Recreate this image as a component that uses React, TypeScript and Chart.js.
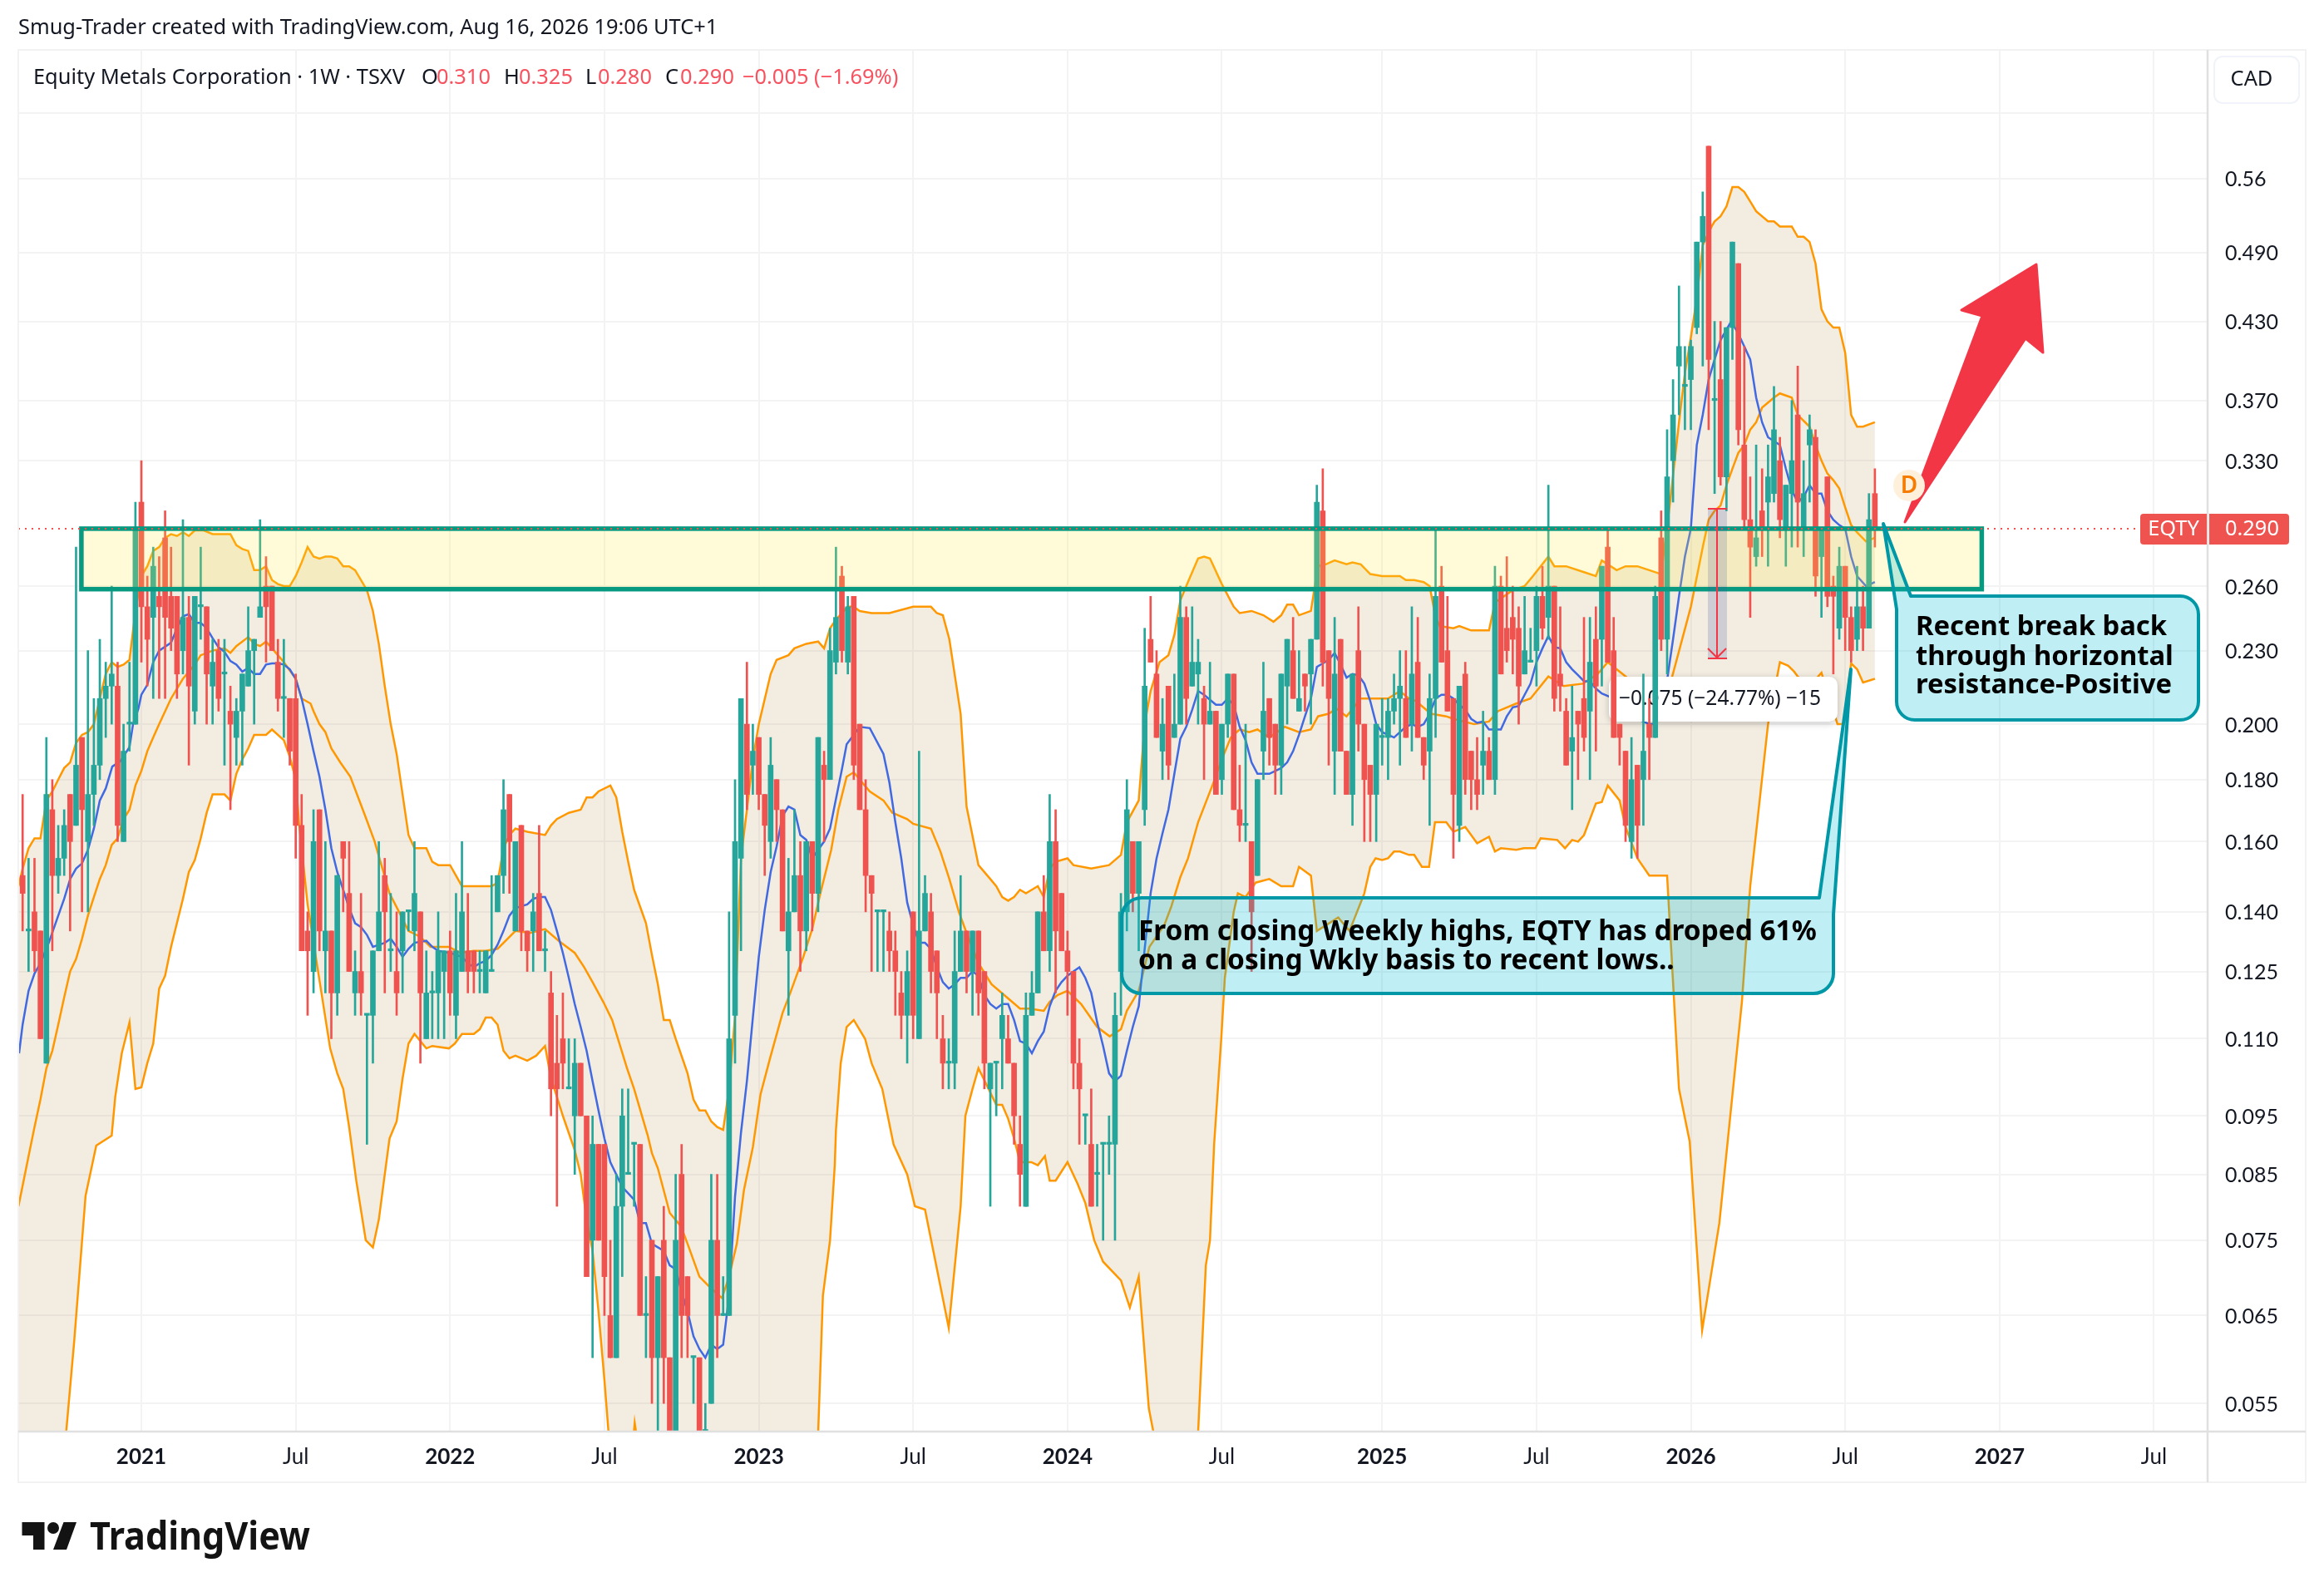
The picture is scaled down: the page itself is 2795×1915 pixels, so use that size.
import React, { useEffect, useRef } from "react";
import { Chart, registerables } from "chart.js";

Chart.register(...registerables);

// Every candle row is [open, close, high, low]; the first row of the first list is week -20, week 0 is Jan 2021.
const candles2020 = [
[.15,.145,.175,.135],[.135,.135,.155,.125],[.14,.13,.155,.125],[.135,.11,.135,.11],[.105,.175,.195,.105],[.17,.15,.18,.13],[.15,.155,.165,.145],[.155,.165,.17,.15],[.175,.16,.175,.135],[.165,.185,.28,.165],
[.195,.17,.195,.14],[.16,.175,.23,.14],[.175,.185,.21,.165],[.185,.21,.235,.18],[.21,.215,.225,.195],[.215,.22,.26,.20],[.215,.165,.225,.16],[.16,.19,.20,.16],[.20,.20,.225,.19],[.20,.29,.305,.20],
];
const candles2021 = [
[.305,.25,.33,.225],[.25,.235,.265,.215],[.245,.27,.28,.21],[.255,.25,.275,.21],[.285,.245,.30,.21],[.255,.24,.28,.23],[.255,.22,.255,.21],[.23,.245,.295,.22],[.245,.215,.255,.185],[.205,.255,.255,.20],
[.25,.25,.28,.235],[.25,.22,.25,.20],[.215,.225,.235,.20],[.23,.21,.235,.205],[.22,.22,.235,.185],[.205,.20,.215,.17],[.195,.205,.21,.185],[.205,.22,.22,.185],[.215,.23,.25,.215],[.23,.235,.235,.20],
[.245,.25,.295,.245],[.26,.25,.275,.225],[.26,.23,.26,.23],[.225,.21,.235,.205],[.21,.21,.235,.195],[.21,.19,.21,.185],[.21,.165,.22,.155],[.165,.13,.175,.13],[.135,.13,.14,.115],[.125,.16,.17,.12],
[.17,.135,.17,.13],[.13,.135,.16,.12],[.135,.12,.135,.11],[.12,.15,.15,.115],[.16,.155,.16,.14],[.145,.125,.16,.125],[.12,.125,.13,.115],[.125,.12,.145,.115],[.115,.115,.115,.09],[.115,.13,.13,.105],
[.13,.14,.16,.13],[.15,.14,.155,.12],[.13,.13,.145,.125],[.125,.12,.14,.115],[.13,.14,.14,.12],[.14,.14,.14,.135],[.135,.145,.16,.13],[.14,.12,.14,.105],[.11,.12,.13,.11],[.12,.12,.125,.11],
[.12,.13,.14,.11],[.125,.13,.13,.11],
];
const candles2022 = [
[.13,.12,.135,.115],[.115,.13,.145,.11],[.125,.14,.16,.125],[.13,.125,.145,.12],[.13,.125,.13,.12],[.125,.125,.13,.12],[.12,.13,.13,.12],[.125,.125,.15,.125],[.14,.15,.15,.14],[.15,.17,.18,.145],
[.175,.16,.175,.145],[.135,.16,.16,.135],[.165,.135,.165,.13],[.135,.13,.135,.125],[.135,.14,.145,.125],[.145,.13,.165,.13],[.13,.13,.135,.125],[.12,.10,.125,.095],[.105,.10,.115,.08],[.11,.105,.12,.10],
[.10,.10,.11,.10],[.095,.105,.11,.085],[.105,.095,.105,.095],[.095,.07,.095,.07],[.075,.09,.095,.06],[.09,.075,.09,.075],[.09,.07,.09,.065],[.065,.06,.075,.06],[.06,.08,.085,.06],[.08,.095,.10,.07],
[.085,.085,.10,.085],[.09,.09,.09,.08],[.09,.065,.09,.065],[.065,.065,.07,.06],[.075,.06,.075,.055],[.06,.07,.07,.05],[.075,.06,.08,.055],[.06,.05,.06,.05],[.05,.075,.085,.05],[.085,.065,.09,.06],
[.07,.065,.07,.06],[.06,.06,.06,.055],[.06,.05,.06,.05],[.05,.05,.055,.05],[.055,.075,.085,.055],[.075,.065,.085,.06],[.065,.065,.07,.065],[.065,.11,.14,.065],[.115,.16,.18,.105],[.155,.21,.21,.13],
[.20,.175,.225,.17],[.185,.19,.20,.175],
];
const candles2023 = [
[.195,.175,.195,.17],[.175,.165,.175,.15],[.16,.185,.195,.155],[.18,.17,.18,.16],[.17,.135,.17,.135],[.13,.14,.155,.115],[.14,.15,.17,.14],[.15,.135,.16,.125],[.135,.16,.16,.13],[.16,.145,.16,.135],
[.145,.195,.195,.14],[.185,.18,.19,.16],[.18,.23,.24,.18],[.225,.245,.28,.22],[.265,.23,.27,.225],[.225,.25,.255,.22],[.255,.185,.255,.18],[.20,.17,.20,.17],[.17,.15,.18,.14],[.15,.145,.15,.125],
[.14,.14,.14,.125],[.14,.14,.14,.125],[.135,.13,.14,.125],[.13,.125,.135,.115],[.12,.115,.125,.11],[.115,.125,.13,.105],[.14,.115,.14,.11],[.11,.135,.19,.11],[.135,.145,.15,.135],[.14,.125,.145,.12],
[.13,.12,.13,.11],[.11,.105,.115,.10],[.105,.105,.11,.10],[.105,.125,.135,.10],[.125,.135,.15,.125],[.135,.125,.135,.12],[.125,.135,.135,.115],[.135,.12,.135,.115],[.125,.105,.125,.10],[.10,.105,.105,.08],
[.105,.105,.105,.095],[.11,.115,.12,.10],[.11,.105,.115,.105],[.105,.095,.105,.09],[.09,.085,.095,.08],[.08,.115,.12,.08],[.115,.12,.125,.115],[.12,.14,.14,.12],[.14,.13,.15,.13],[.13,.16,.175,.125],
[.16,.135,.17,.12],[.145,.13,.145,.13],
];
const candles2024 = [
[.13,.125,.135,.115],[.125,.105,.125,.10],[.105,.10,.11,.09],[.095,.095,.095,.09],[.09,.08,.10,.08],[.085,.085,.09,.08],[.09,.09,.09,.075],[.09,.09,.095,.085],[.09,.115,.12,.075],[.125,.14,.145,.115],
[.14,.17,.18,.135],[.16,.145,.16,.14],[.145,.16,.16,.13],[.17,.215,.24,.165],[.235,.225,.255,.225],[.22,.195,.23,.195],[.19,.20,.21,.18],[.215,.185,.215,.18],[.195,.20,.22,.195],[.20,.245,.26,.20],
[.245,.21,.25,.20],[.215,.225,.25,.215],[.22,.225,.235,.20],[.21,.20,.215,.18],[.20,.205,.225,.20],[.205,.175,.205,.175],[.18,.20,.20,.175],[.20,.22,.22,.195],[.22,.17,.22,.17],[.17,.165,.185,.16],
[.165,.165,.20,.16],[.16,.14,.16,.125],[.15,.18,.18,.15],[.19,.205,.225,.18],[.21,.195,.21,.185],[.20,.185,.20,.175],[.185,.22,.22,.175],[.215,.235,.235,.20],[.23,.21,.245,.21],[.205,.21,.23,.205],
[.22,.215,.22,.205],[.22,.235,.235,.20],[.235,.305,.315,.235],[.30,.225,.325,.215],[.23,.21,.23,.185],[.19,.22,.245,.175],[.235,.19,.235,.19],[.19,.175,.19,.175],[.175,.22,.22,.165],[.23,.20,.25,.19],
[.20,.18,.20,.16],[.185,.175,.185,.16],[.175,.20,.20,.16],
];
const candles2025 = [
[.195,.195,.21,.185],[.195,.205,.21,.18],[.205,.21,.22,.20],[.21,.215,.23,.185],[.21,.195,.23,.195],[.20,.22,.25,.19],[.225,.195,.245,.195],[.195,.185,.195,.18],[.19,.21,.22,.165],[.21,.255,.29,.195],
[.26,.225,.27,.225],[.23,.205,.255,.205],[.21,.175,.21,.155],[.165,.215,.215,.16],[.22,.18,.225,.175],[.19,.18,.19,.17],[.18,.175,.195,.17],[.185,.19,.205,.175],[.19,.18,.195,.18],[.18,.26,.27,.175],
[.26,.22,.265,.22],[.24,.23,.275,.225],[.245,.235,.26,.22],[.24,.215,.25,.20],[.22,.23,.255,.22],[.225,.225,.24,.225],[.23,.255,.26,.215],[.255,.24,.27,.235],[.245,.26,.315,.235],[.26,.21,.26,.205],
[.22,.215,.25,.205],[.205,.185,.21,.185],[.19,.195,.215,.17],[.205,.20,.205,.18],[.21,.195,.245,.19],[.205,.225,.245,.18],[.235,.215,.25,.19],[.235,.27,.27,.215],[.28,.225,.29,.225],[.23,.195,.245,.195],
[.20,.195,.20,.185],[.19,.165,.19,.16],[.16,.18,.195,.155],[.185,.165,.185,.155],[.18,.19,.22,.165],[.20,.195,.21,.18],[.195,.255,.26,.195],[.285,.235,.30,.23],[.235,.32,.35,.22],[.33,.36,.385,.305],
[.395,.41,.46,.36],[.38,.38,.41,.35],
];
const candles2026 = [
[.385,.41,.415,.35],[.425,.50,.50,.42],[.50,.525,.55,.395],[.60,.40,.60,.35],[.37,.37,.43,.31],[.385,.32,.43,.315],[.32,.425,.425,.30],[.425,.50,.50,.40],[.48,.35,.48,.34],[.34,.295,.41,.29],
[.295,.28,.32,.245],[.275,.285,.34,.27],[.30,.29,.325,.275],[.305,.32,.34,.27],[.31,.35,.38,.305],[.33,.295,.345,.285],[.29,.315,.315,.27],[.31,.33,.37,.28],[.36,.305,.395,.28],[.29,.31,.33,.275],
[.34,.35,.36,.305],[.345,.265,.35,.255],[.275,.29,.29,.245],[.32,.255,.32,.25],[.26,.255,.265,.22],[.24,.27,.28,.235],[.27,.245,.27,.23],[.245,.23,.25,.225],[.235,.25,.27,.23],[.25,.24,.26,.23],
[.24,.295,.31,.24],[.31,.29,.325,.28],
];
const candleYears = [candles2020, candles2021, candles2022, candles2023, candles2024, candles2025, candles2026];
const firstWeek = -20;

const upperBand = [
[-20.7,.147],[-20,.152],[-19,.158],[-18,.161],[-17,.161],[-16,.173],[-15,.176],[-14,.18],[-13,.184],[-12,.186],[-11,.193],[-10,.196],[-9,.197],[-8,.20],[-7,.21],[-6,.22],[-5,.225],[-4,.223],[-3,.224],[-2,.226],[-1,.248],
[0,.265],[1,.27],[2,.278],[3,.28],[4,.285],[5,.287],[6,.286],[7,.288],[8,.286],[9,.289],[10.5,.289],[12,.287],[15,.287],[16,.281],[17,.279],[18,.278],[19,.268],[20,.268],[21,.27],[22,.263],[23,.261],[24,.26],[25,.26],[26,.265],[27,.272],[28,.28],[29,.275],[30,.274],[31,.275],[32,.275],[33,.274],[34,.27],[35,.27],[36,.268],[37,.263],[38,.258],[39,.248],[40,.233],[41,.215],[42,.20],[43,.189],[44,.175],[45,.162],[46,.158],[48,.158],[49,.154],[50,.153],
[52,.153],[54,.147],[56,.147],[58,.147],[59,.147],[60,.148],[61,.158],[62,.162],[63,.164],[65,.163],[68,.162],[69,.165],[70,.167],[72,.169],[74,.17],[75,.174],[76,.174],[77,.176],[79,.178],[80,.174],[81,.163],[82,.154],[83,.146],[85,.137],[86,.129],[87,.122],[88,.114],[89,.114],[90,.11],[92,.103],[93,.098],[94,.096],[95,.096],[96,.094],[97,.093],[98,.0925],[99,.10],[100,.115],[101,.155],[102,.17],[103,.187],
[104,.20],[106,.22],[107,.226],[109,.228],[110,.231],[112,.233],[114,.234],[115,.231],[116,.24],[117,.244],[119,.25],[120,.25],[121,.248],[123,.247],[126,.247],[130,.25],[133,.25],[134,.247],[135,.246],[136.1,.235],[138,.204],[139,.171],[141,.153],[143,.149],[144,.147],[145,.144],[146,.143],[147,.144],[148,.146],[149,.145],[150,.146],[151,.147],[152,.144],[153,.152],[154,.154],
[156,.155],[157,.153],[160,.152],[163,.153],[165,.156],[166,.166],[168,.173],[169,.20],[170,.213],[171.5,.225],[173,.228],[174,.237],[175,.253],[176,.26],[178,.274],[179,.275],[180,.274],[182,.261],[184,.25],[185,.247],[187,.248],[189,.246],[190.7,.243],[192,.246],[193,.251],[194,.251],[195,.246],[197,.248],[198.2,.27],[199.5,.271],[201,.273],[203,.271],[204,.272],[205.4,.271],[207,.266],
[209,.265],[212,.265],[213,.263],[214.4,.263],[216,.262],[217,.26],[218,.245],[218.7,.241],[221,.24],[222,.241],[224,.239],[227,.239],[228,.252],[231,.258],[233,.26],[234.4,.265],[237,.275],[238,.27],[240,.27],[243,.267],[245,.265],[246,.273],[247.5,.27],[248.5,.268],[250,.27],[252,.27],[254,.268],[256,.266],[257.5,.305],[259,.355],[260,.39],
[261,.417],[262,.45],[263,.497],[264.5,.515],[265,.52],[266,.525],[267,.535],[268,.555],[269,.555],[270,.55],[271,.54],[272,.53],[274,.52],[275,.52],[276,.515],[278,.515],[279,.505],[280,.505],[281,.50],[282,.48],[283,.44],[284,.43],[285,.425],[286,.425],[287,.405],[288,.36],[289,.352],[290,.352],[292,.355],
];
const lowerBand = [
[-20.7,.036],[-17,.042],[-15,.047],[-13,.05],[-12.6,.0525],[-11.3,.062],[-9.4,.0816],[-7.6,.0898],[-5,.0915],[-4.4,.0985],[-3.3,.107],[-2,.1135],[-1,.10],
[0,.1003],[1,.105],[2,.109],[3,.121],[4,.124],[5,.131],[7,.1435],[8,.151],[9,.1545],[10,.161],[11,.169],[12,.175],[14,.175],[15,.173],[16,.182],[17,.187],[18,.191],[19,.196],[21,.196],[22,.198],[24,.194],[25,.188],[26,.18],[26.6,.165],[28,.142],[31.8,.108],[33,.103],[34,.10],[35,.093],[36.2,.084],[37.8,.075],[39,.074],[40,.078],[41,.085],[41.8,.091],[43,.094],[44,.102],[45,.109],[46,.111],[48,.108],[49,.1085],[51.8,.108],
[52.8,.109],[54,.111],[56,.111],[57,.112],[58,.1145],[59,.1145],[60,.113],[61,.1075],[62,.106],[63,.1065],[65,.1055],[66.5,.1065],[68,.1085],[69,.102],[70,.0985],[71,.095],[73,.089],[74,.085],[75,.078],[76,.0735],[77,.0655],[78,.0575],[78.7,.052],[80,.048],[82.8,.051],[83.1,.053],[83.6,.051],[86,.044],[92,.036],[100,.034],[108,.04],[112,.047],[114,.052],[114.8,.0675],[116,.075],[116.8,.0865],[117,.0925],[117.8,.105],[118.8,.1125],
[120,.114],[121.9,.11],[123,.105],[124.8,.10],[126.7,.09],[129,.085],[130.3,.08],[132,.0795],[136,.0635],[138,.08],[138.8,.095],[140,.10],[141,.104],[142.7,.10],[144,.097],[145,.097],[146,.0945],[147,.091],[148,.087],[149.9,.087],[151,.0865],[152.2,.088],[153,.084],[154,.084],
[156,.087],[157.7,.0835],[159,.0805],[160.5,.075],[162,.072],[165,.0695],[166.5,.066],[168,.07],[169.7,.0545],[170.5,.052],[172,.047],[175,.045],[178,.052],[179.3,.0715],[180,.075],[180.7,.09],[181.9,.11],[182.5,.1235],[184,.14],[184.7,.145],[186,.144],[187.7,.148],[190,.149],[192,.147],[194,.147],[195,.1525],[197,.15],[198,.135],[201.6,.1385],[203.5,.135],[206,.145],[207,.1525],[207.9,.155],
[209,.1545],[210,.155],[211,.157],[212,.157],[213.5,.156],[214.4,.156],[215.7,.1525],[216.9,.1525],[217.9,.166],[219.8,.166],[221,.163],[223,.1645],[225,.1595],[227,.1615],[228,.157],[229,.158],[231.6,.1575],[232.9,.158],[234.8,.158],[235.7,.161],[238.5,.1605],[239.8,.158],[241,.1605],[242,.16],[243,.162],[245,.172],[246,.1725],[247,.178],[249,.173],[250,.1645],[252,.155],[254,.15],[256,.15],[257,.15],[259,.10],[260.8,.0905],
[262.9,.0632],[265.8,.0775],[269.6,.118],[271,.147],[274,.20],[276,.225],[277.4,.2235],[278.4,.221],[279,.219],[281,.215],[283,.2205],[285.7,.20],[286.7,.20],[288,.2245],[289,.222],[290,.2165],[292,.218],
];
const middleBand = [
[-20.7,.08],[-19,.088],[-18,.093],[-17,.098],[-16,.104],[-15,.1075],[-14,.113],[-13,.119],[-12,.125],[-11,.128],[-10,.133],[-9,.139],[-8,.144],[-7,.149],[-6,.153],[-5,.159],[-4,.161],[-3,.167],[-2,.17],[-1,.178],
[0,.183],[1,.19],[2,.195],[3,.20],[5,.21],[7,.218],[9,.224],[10,.228],[12,.23],[14,.231],[15,.229],[16,.232],[18,.236],[19,.233],[20,.232],[21,.234],[22,.231],[23,.228],[24,.225],[26,.218],[27,.21],[28.5,.208],[29,.205],[30,.20],[31,.197],[32,.191],[33.5,.186],[35.2,.181],[37.7,.168],[39.3,.16],[41.8,.145],[43.4,.14],[45,.135],[47,.1335],[48.7,.131],[51.8,.131],
[53.7,.1295],[56,.13],[58,.13],[60,.1305],[63,.135],[65.5,.1345],[68,.1355],[70.3,.1325],[73,.1295],[74.6,.126],[76,.1225],[77.8,.118],[79.3,.114],[81.8,.104],[83,.10],[85.3,.0915],[86,.0885],[87,.086],[89,.079],[90.9,.077],[92,.0745],[94,.07],[95.9,.0685],[97.8,.0672],[99,.07],[100.3,.0745],[101.5,.0825],[103,.0895],
[104.3,.099],[105.9,.106],[108,.1155],[109.3,.12],[111.5,.1285],[113,.1355],[114.3,.1445],[116.2,.1575],[117.4,.17],[118.8,.181],[120,.1825],[121,.18],[122.7,.176],[125,.173],[126.5,.169],[129,.167],[130,.1655],[133,.164],[134.6,.157],[136.1,.149],[137.7,.14],[139,.1345],[141,.127],[143.2,.122],[145.8,.119],[148,.1165],[149.6,.1165],[152,.116],[153,.118],[154.3,.1195],
[156,.1205],[158.3,.1175],[161,.1125],[163.1,.1105],[165,.112],[166,.116],[168,.1205],[169.8,.131],[172.3,.1365],[173.5,.1415],[175,.1495],[176.3,.155],[178,.166],[180.4,.178],[182,.187],[183.5,.195],[185,.198],[186.6,.197],[188,.198],[190,.195],[192.6,.199],[195,.197],[197,.198],[198.2,.203],[200,.204],[201.3,.206],[203,.203],[205.4,.21],[207.6,.21],
[210,.21],[212,.213],[213.5,.21],[214.7,.209],[217.2,.204],[219.8,.203],[221,.202],[224.5,.20],[227,.201],[228.5,.205],[231.6,.208],[234,.21],[237,.219],[239.6,.215],[242.8,.216],[245.3,.22],[247,.225],[249.5,.22],[252,.215],[254,.212],[256,.212],[257.7,.2175],[261,.25],
[263,.28],[264,.295],[265,.30],[266,.303],[267,.315],[268,.325],[269,.335],[270,.34],[271,.35],[272,.355],[273,.365],[275,.372],[276,.375],[278,.372],[279,.36],[281,.352],[282,.34],[283,.33],[284,.322],[285,.318],[286,.313],[287,.302],[288,.292],[289,.288],[290.5,.283],[292,.285],
];
const fastAverage = [
[-20.6,.107],[-20,.113],[-19,.1205],[-18,.1245],[-17,.127],[-15.6,.132],[-14,.139],[-13,.1435],[-12,.149],[-11,.152],[-10,.1535],[-9,.1575],[-8,.164],[-7,.173],[-6,.177],[-4.9,.1845],[-3.5,.1865],[-2,.1915],[-1.4,.20],[-.5,.206],
[0,.2115],[1,.2155],[2,.225],[3,.23],[5,.2335],[6,.24],[7,.2455],[8,.2465],[9,.2425],[10,.2425],[11,.24],[12,.2355],[13,.2315],[14,.2295],[15,.2255],[16,.224],[17,.221],[18,.2225],[19,.22],[20,.22],[21,.224],[22,.2245],[23,.2245],[24,.224],[25,.222],[26,.218],[27,.21],[28,.20],[29,.19],[30,.181],[31,.17],[32,.158],[33,.151],[34,.146],[35,.141],[36,.137],[37,.136],[38,.134],[39,.131],[41,.132],[42,.133],[43,.131],[44,.1285],[45,.1305],[46,.132],[48,.1325],[49,.131],[50,.13],
[52,.1295],[54,.1285],[55,.127],[56,.126],[57,.127],[58,.1275],[59,.129],[60,.1315],[61,.135],[62,.139],[63,.141],[64,.1415],[65,.142],[66,.1435],[67,.144],[68,.144],[69,.1405],[70,.135],[71,.1295],[72,.1235],[73,.1175],[74,.1125],[75,.1075],[76,.1015],[77,.096],[78,.091],[79,.087],[80,.085],[81,.083],[82,.082],[83,.081],[84,.0775],[85,.0775],[86,.0745],[87,.074],[88,.0735],[89,.0715],[90,.071],[91,.068],[92,.0655],[93,.0625],[94,.061],[95,.06],[96,.0615],[97,.061],[98,.0615],[99,.0675],[100,.0815],[101,.092],[102,.1015],[103,.1145],
[104,.1285],[105,.1405],[106,.151],[107,.1585],[108,.168],[109,.171],[110,.17],[111,.162],[112,.1605],[113,.155],[114,.1575],[115,.16],[116,.164],[117,.1735],[118,.1835],[118.8,.1925],[120,.196],[121,.199],[122.7,.1985],[125,.189],[126,.179],[127,.166],[128,.155],[129,.1425],[130,.1365],[131,.132],[132,.132],[133,.1305],[134,.126],[135,.1225],[136,.121],[137,.122],[138,.1235],[139,.1235],[140,.125],[141,.124],[142,.1195],[143,.1175],[144,.1165],[145,.1175],[146,.1175],[147,.114],[148,.1095],[149,.109],[150,.107],[151,.1095],[152,.1115],[153,.117],[154,.1205],[155,.1225],
[156,.124],[157,.125],[158,.126],[159,.1235],[160,.12],[161,.1135],[162,.1085],[163,.103],[164,.1015],[165,.1025],[166,.1075],[167,.1125],[168,.117],[169,.1305],[170,.145],[171,.155],[172,.1625],[173,.17],[174,.182],[175,.1945],[176,.199],[177,.2055],[178,.213],[179,.2115],[180,.2095],[181,.2075],[182,.2075],[183,.21],[184,.2075],[185,.199],[186,.194],[187,.186],[188,.182],[189,.182],[190,.182],[191,.183],[192,.184],[193,.186],[194,.19],[195,.196],[196,.203],[197,.21],[198,.223],[199,.2245],[200,.226],[201,.229],[202,.224],[203,.2185],[204,.22],[205,.2195],[206,.216],[207,.209],[208,.20],
[209,.197],[210,.196],[211,.195],[212,.197],[213,.199],[214,.20],[215,.199],[216,.20],[217,.204],[218,.21],[219,.2115],[220,.2115],[221,.21],[222,.2075],[223,.2055],[224,.202],[225,.2005],[226,.201],[227,.198],[228,.198],[229,.198],[230,.203],[231,.2065],[232,.207],[233,.2115],[234,.216],[235,.225],[236,.231],[237,.2365],[238,.2315],[239,.231],[240,.225],[241,.222],[242,.2195],[243,.217],[244,.217],[245,.214],[246,.212],[248,.21],[250,.205],[252,.202],[254,.20],[255,.20],[256,.205],[257,.2175],[258,.235],[259,.255],[260,.275],
[261,.29],[262,.34],[263,.36],[264,.385],[265,.40],[266,.415],[267.8,.43],[269,.42],[270,.41],[271,.40],[272,.372],[273,.355],[274,.345],[276,.34],[277,.325],[278,.312],[279,.305],[280,.308],[281,.315],[282,.31],[283,.31],[284,.30],[285,.295],[286,.292],[287,.29],[288,.275],[289,.265],[290.5,.26],[292,.262],
];

const priceTicks = [0.639, 0.564, 0.49, 0.43, 0.37, 0.33, 0.26, 0.23, 0.2, 0.18, 0.16, 0.14, 0.125, 0.11, 0.095, 0.085, 0.075, 0.065, 0.055];
const priceLabels = ["", "0.56", "0.490", "0.430", "0.370", "0.330", "0.260", "0.230", "0.200", "0.180", "0.160", "0.140", "0.125", "0.110", "0.095", "0.085", "0.075", "0.065", "0.055"];
const timeWeeks = [0, 26, 52, 78, 104, 130, 156, 182, 209, 235, 261, 287, 313, 339];
const timeLabels = ["2021", "Jul", "2022", "Jul", "2023", "Jul", "2024", "Jul", "2025", "Jul", "2026", "Jul", "2027", "Jul"];

const lastPrice = 0.29;
const resistanceZone = { fromWeek: -10.1, toWeek: 310, top: 0.29, bottom: 0.2585 };

const UP = "#26a69a";
const DOWN = "#ef5350";
const ORANGE = "#ff9800";
const DARK = "#131722";
const GRID = "#f3f3f4";
const FONT = "'Noto Sans', Lato, sans-serif";
const AXIS_FONT = "Lato, 'Noto Sans', sans-serif";

function callout(ctx: CanvasRenderingContext2D, pts: number[][], box: number[], r: number) {
  const [x1, y1, x2, y2] = box;
  ctx.beginPath();
  ctx.moveTo(x1 + r, y1);
  pts.forEach(([x, y]) => ctx.lineTo(x, y));
  ctx.lineTo(x2, y2 - r);
  ctx.arcTo(x2, y2, x2 - r, y2, r);
  ctx.lineTo(x1 + r, y2);
  ctx.arcTo(x1, y2, x1, y2 - r, r);
  ctx.lineTo(x1, y1 + r);
  ctx.arcTo(x1, y1, x1 + r, y1, r);
  ctx.closePath();
  ctx.fillStyle = "rgba(0,188,212,0.25)";
  ctx.fill();
  ctx.strokeStyle = "#0097a7";
  ctx.lineWidth = 4;
  ctx.lineJoin = "round";
  ctx.stroke();
}

function callout2(ctx: CanvasRenderingContext2D) {
  const [x1, y1, x2, y2] = [2281, 717, 2644, 866];
  const r = 22;
  ctx.beginPath();
  ctx.moveTo(2298, y1);
  ctx.lineTo(x2 - r, y1);
  ctx.arcTo(x2, y1, x2, y1 + r, r);
  ctx.lineTo(x2, y2 - r);
  ctx.arcTo(x2, y2, x2 - r, y2, r);
  ctx.lineTo(x1 + r, y2);
  ctx.arcTo(x1, y2, x1, y2 - r, r);
  ctx.lineTo(x1, 733);
  ctx.lineTo(2265, 630);
  ctx.closePath();
  ctx.fillStyle = "rgba(0,188,212,0.25)";
  ctx.fill();
  ctx.strokeStyle = "#0097a7";
  ctx.lineWidth = 4;
  ctx.lineJoin = "round";
  ctx.stroke();
}

const drawings = {
  id: "drawings",
  beforeDraw(chart: any) {
    const ctx = chart.ctx;
    ctx.save();
    ctx.fillStyle = "#ffffff";
    ctx.fillRect(0, 0, chart.width, chart.height);
    ctx.restore();
  },
  beforeDatasetDraw(chart: any, args: any) {
    if (chart.data.datasets[args.index].label !== "wicks") return;
    const ctx = chart.ctx;
    ctx.save();
    ctx.shadowColor = "rgba(0,0,0,0.22)";
    ctx.shadowBlur = 8;
    ctx.shadowOffsetY = 2;
    ctx.fillStyle = "#ffffff";
    ctx.beginPath();
    ctx.roundRect(1935, 814, 275, 54, 10);
    ctx.fill();
    ctx.restore();
    ctx.save();
    ctx.fillStyle = DARK;
    ctx.font = `24.5px ${FONT}`;
    ctx.textBaseline = "middle";
    ctx.fillText("\u22120.075 (\u221224.77%) \u221215", 1947, 841);
    ctx.restore();
  },
  afterDatasetsDraw(chart: any) {
    const ctx = chart.ctx;
    const x = chart.scales.x;
    const y = chart.scales.y;
    ctx.save();
    // resistance zone
    const zx1 = x.getPixelForValue(resistanceZone.fromWeek);
    const zx2 = x.getPixelForValue(resistanceZone.toWeek);
    const zy1 = y.getPixelForValue(resistanceZone.top);
    const zy2 = y.getPixelForValue(resistanceZone.bottom);
    ctx.fillStyle = "rgba(255,235,59,0.2)";
    ctx.fillRect(zx1, zy1, zx2 - zx1, zy2 - zy1);
    ctx.strokeStyle = "#089981";
    ctx.lineWidth = 5.5;
    ctx.strokeRect(zx1, zy1, zx2 - zx1, zy2 - zy1);
    // last price line
    ctx.strokeStyle = DOWN;
    ctx.lineWidth = 2;
    ctx.setLineDash([2, 6]);
    ctx.beginPath();
    ctx.moveTo(22, y.getPixelForValue(lastPrice));
    ctx.lineTo(2574, y.getPixelForValue(lastPrice));
    ctx.stroke();
    ctx.setLineDash([]);
    // measuring tool
    ctx.fillStyle = "rgba(70,85,160,0.2)";
    ctx.fillRect(2054, 612, 23, 180);
    ctx.strokeStyle = "#f23645";
    ctx.lineWidth = 2;
    ctx.beginPath();
    ctx.moveTo(2054, 612); ctx.lineTo(2077, 612);
    ctx.moveTo(2065, 612); ctx.lineTo(2065, 791);
    ctx.moveTo(2054, 780); ctx.lineTo(2065, 791); ctx.lineTo(2076, 780);
    ctx.moveTo(2054, 792); ctx.lineTo(2077, 792);
    ctx.stroke();
    // callouts
    callout(ctx, [[2188, 1080], [2226, 805], [2205, 1100]], [1349, 1080, 2205, 1195], 24);
    callout2(ctx);
    ctx.fillStyle = "#000000";
    ctx.font = `700 33.4px ${FONT}`;
    ctx.textBaseline = "middle";
    ctx.fillText("From closing Weekly highs, EQTY has droped 61%", 1369, 1121);
    ctx.fillText("on a closing Wkly basis to recent lows..", 1369, 1156);
    ctx.font = `700 32.8px ${FONT}`;
    ctx.fillText("Recent break back", 2304, 755);
    ctx.fillText("through horizontal", 2304, 791);
    ctx.fillText("resistance-Positive", 2304, 825);
    // arrow
    ctx.fillStyle = "#f23645";
    ctx.strokeStyle = "#f23645";
    ctx.lineWidth = 3;
    ctx.lineJoin = "round";
    ctx.beginPath();
    ctx.moveTo(2291, 628);
    ctx.lineTo(2384, 380);
    ctx.lineTo(2359, 373);
    ctx.lineTo(2449, 318);
    ctx.lineTo(2457, 424);
    ctx.lineTo(2436, 407);
    ctx.closePath();
    ctx.fill();
    ctx.stroke();
    // dividend marker
    ctx.fillStyle = "#fff0dc";
    ctx.beginPath();
    ctx.arc(2296, 584, 19, 0, Math.PI * 2);
    ctx.fill();
    ctx.fillStyle = "#f57c00";
    ctx.font = `600 28px ${FONT}`;
    ctx.textAlign = "center";
    ctx.fillText("D", 2296, 585);
    ctx.restore();
  },
  afterDraw(chart: any) {
    const ctx = chart.ctx;
    ctx.save();
    // frame
    ctx.strokeStyle = "#f2f2f3";
    ctx.lineWidth = 2;
    ctx.strokeRect(22, 60, 2751, 1723);
    ctx.strokeStyle = "#e0e0e1";
    ctx.lineWidth = 2.5;
    ctx.beginPath();
    ctx.moveTo(2655, 60); ctx.lineTo(2655, 1783);
    ctx.moveTo(22, 1722); ctx.lineTo(2773, 1722);
    ctx.stroke();
    // header texts
    ctx.textBaseline = "middle";
    ctx.fillStyle = DARK;
    ctx.font = `25.4px ${FONT}`;
    ctx.fillText("Smug-Trader created with TradingView.com, Aug 16, 2026 19:06 UTC+1", 22, 34);
    ctx.fillText("Equity Metals Corporation \u00b7 1W \u00b7 TSXV", 40, 94);
    const legend: [string, number, string][] = [
      ["O", 507, DARK], ["0.310", 525, "#f7525f"], ["H", 606, DARK], ["0.325", 624, "#f7525f"],
      ["L", 704, DARK], ["0.280", 719, "#f7525f"], ["C", 800, DARK], ["0.290", 818, "#f7525f"],
      ["\u22120.005 (\u22121.69%)", 893, "#f7525f"],
    ];
    legend.forEach(([t, px, c]) => { ctx.fillStyle = c; ctx.fillText(t, px, 94); });
    // currency button
    ctx.strokeStyle = "#f0f3fa";
    ctx.lineWidth = 2;
    ctx.beginPath();
    ctx.roundRect(2663, 68, 102, 56, 10);
    ctx.stroke();
    ctx.fillStyle = DARK;
    ctx.textAlign = "center";
    ctx.fillText("CAD", 2708, 96);
    // last price labels
    ctx.fillStyle = DOWN;
    ctx.beginPath();
    ctx.roundRect(2574, 618, 80, 37, [4, 0, 0, 4]);
    ctx.fill();
    ctx.beginPath();
    ctx.roundRect(2657, 618, 96, 37, [0, 4, 4, 0]);
    ctx.fill();
    ctx.fillStyle = "#ffffff";
    ctx.fillText("EQTY", 2614, 637);
    ctx.textAlign = "left";
    ctx.fillText("0.290", 2676, 637);
    // logo
    ctx.fillStyle = "#131313";
    ctx.beginPath();
    ctx.moveTo(26.5, 1831); ctx.lineTo(53.5, 1831); ctx.lineTo(53.5, 1864); ctx.lineTo(40, 1864); ctx.lineTo(40, 1847); ctx.lineTo(26.5, 1847);
    ctx.closePath();
    ctx.moveTo(76.5, 1831); ctx.lineTo(92, 1831); ctx.lineTo(80, 1864); ctx.lineTo(64, 1864);
    ctx.closePath();
    ctx.fill();
    ctx.beginPath();
    ctx.arc(64, 1838, 7, 0, Math.PI * 2);
    ctx.fill();
    ctx.font = `700 46px ${FONT}`;
    ctx.textBaseline = "alphabetic";
    ctx.fillText("TradingView", 108, 1864, 265);
    ctx.restore();
  },
};

export default function App() {
  const ref = useRef<HTMLCanvasElement>(null);

  useEffect(() => {
    const rows = candleYears.flat();
    const wickData = rows.map((r, i) => ({ x: firstWeek + i, y: [r[3], r[2]] }));
    const bodyData = rows.map((r, i) => ({ x: firstWeek + i, y: [r[0], r[1]] }));
    const colours = rows.map((r) => (r[1] >= r[0] ? UP : DOWN));
    const toPoints = (list: number[][]) => list.map(([x, y]) => ({ x, y }));

    const chart = new Chart(ref.current as HTMLCanvasElement, {
      type: "bar",
      data: {
        datasets: [
          { type: "line", label: "upper", data: toPoints(upperBand), borderColor: ORANGE, borderWidth: 2.5, pointRadius: 0, tension: 0, fill: { target: "+1" }, backgroundColor: "rgba(190,160,105,0.2)", order: 6 } as any,
          { type: "line", label: "lower", data: toPoints(lowerBand), borderColor: ORANGE, borderWidth: 2.5, pointRadius: 0, tension: 0, fill: false, order: 5 } as any,
          { type: "line", label: "basis", data: toPoints(middleBand), borderColor: ORANGE, borderWidth: 2.5, pointRadius: 0, tension: 0, fill: false, order: 4 } as any,
          { type: "line", label: "fast", data: toPoints(fastAverage), borderColor: "#4169e1", borderWidth: 2.5, pointRadius: 0, tension: 0, fill: false, order: 3 } as any,
          { type: "bar", label: "wicks", data: wickData, backgroundColor: colours, barThickness: 2, grouped: false, minBarLength: 1, order: 2 } as any,
          { type: "bar", label: "bodies", data: bodyData, backgroundColor: colours, barThickness: 6, grouped: false, minBarLength: 2.5, order: 1 } as any,
        ],
      },
      options: {
        responsive: false,
        animation: false,
        devicePixelRatio: 1,
        events: [],
        layout: { padding: { left: 22, top: 60, right: 0, bottom: 62 } },
        plugins: { legend: { display: false }, tooltip: { enabled: false }, title: { display: false } },
        scales: {
          x: {
            type: "linear",
            bounds: "data",
            min: -20.73,
            max: 348.04,
            offset: false,
            border: { display: false },
            grid: { color: GRID, lineWidth: 2, drawTicks: false, offset: false },
            afterBuildTicks: (s: any) => { s.ticks = timeWeeks.map((value) => ({ value })); },
            afterFit: (s: any) => { s.height = 131; },
            ticks: {
              autoSkip: false,
              maxRotation: 0,
              padding: 15,
              color: DARK,
              callback: (v: any) => timeLabels[timeWeeks.indexOf(Number(v))],
              font: (c: any) => ({ family: AXIS_FONT, size: 26, weight: /^\d/.test(c.tick?.label ?? "") ? "700" : "400" }),
            },
          } as any,
          y: {
            type: "logarithmic",
            position: "right",
            bounds: "data",
            min: 0.05214,
            max: 0.7204,
            border: { display: false },
            grid: { color: GRID, lineWidth: 2, drawTicks: false },
            afterBuildTicks: (s: any) => { s.ticks = priceTicks.map((value) => ({ value })); },
            afterFit: (s: any) => { s.width = 140; },
            ticks: {
              autoSkip: false,
              padding: 21,
              labelOffset: 1.5,
              color: DARK,
              callback: (v: any) => priceLabels[priceTicks.indexOf(Number(v))],
              font: { family: AXIS_FONT, size: 25 },
            },
          } as any,
        },
      },
      plugins: [drawings],
    } as any);
    return () => chart.destroy();
  }, []);

  return (
    <canvas
      ref={ref}
      width={2795}
      height={1915}
      style={{ position: "absolute", left: 0, top: 0, width: 2795, height: 1915, display: "block" }}
    />
  );
}
